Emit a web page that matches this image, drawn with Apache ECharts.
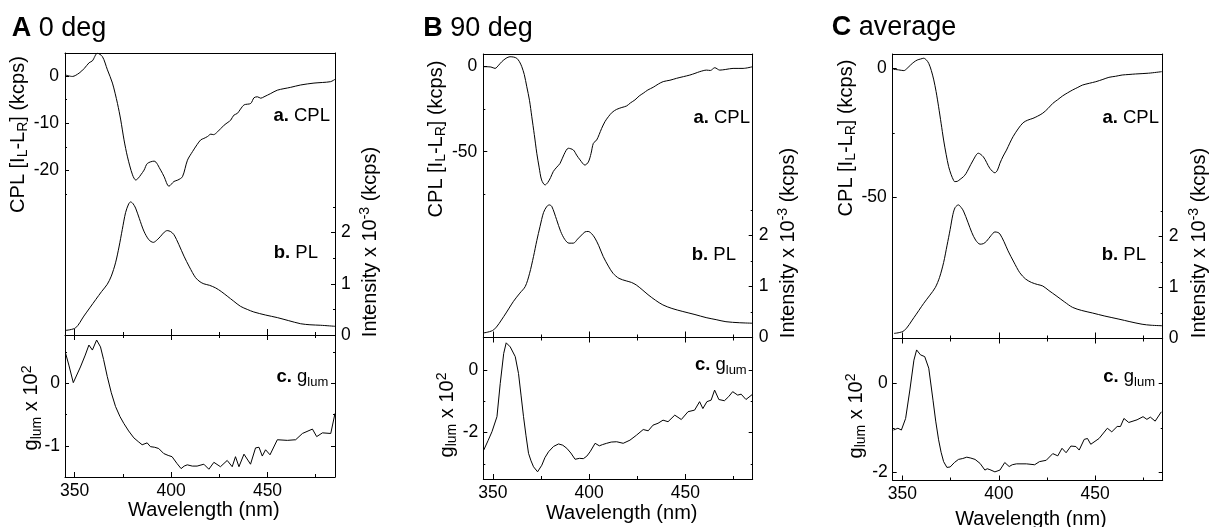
<!DOCTYPE html>
<html>
<head>
<meta charset="utf-8">
<script src="https://cdn.jsdelivr.net/npm/echarts@6/dist/echarts.min.js"></script>
<style>html,body{margin:0;padding:0;background:#fff}#c{width:1210px;height:527px}</style>
</head>
<body>
<div id="c"></div>
<script>
// ---------------- DATA ----------------
// Panel A (0 deg)
const wl_cplA = [345.3,348.8,352.3,355,357.5,359.2,361.8,364.4,367,369.6,372.2,373.9,375.6,377.4,380,381.7,383,384.3,386,387.7,391.2,394.6,396.4,398.9,401.5,403.5,405.9,408.5,411.1,413.5,415.4,417,418.9,420.6,422,424.1,427.5,429.5,431,432.5,434.4,436,437.9,441.3,443,444.8,446.5,448.2,451.7,455.1,462,467.2,474.1,482.7,485];
const cplA    = [0.2,-0.1,0.6,1.6,2.8,3.2,4.8,4.1,1.3,-1.5,-5.8,-9.3,-13.5,-17.1,-20.9,-22.0,-21.6,-20.9,-19.9,-18.5,-18.0,-19.9,-21.3,-23.3,-22.3,-22.0,-21.3,-17.8,-16,-14.5,-13.5,-13.2,-12.8,-12.3,-12.4,-11.8,-10.4,-9.8,-9.3,-8.3,-7.9,-7.0,-6.1,-5.8,-4.6,-4.4,-4.7,-4.4,-3.7,-3.0,-2.4,-1.9,-1.5,-1.2,-0.7];
const wl_plA  = [345.3,350.5,354.8,360.9,364,366.9,369,371.2,373,374.7,376.4,378,379,380.2,381.6,383.5,385.9,388.5,390.8,392.8,394.6,396.5,398,399.8,401.5,404,406.7,409.5,412.7,415,417,420,423.1,426,429.1,432.5,436,439.5,442.9,449,455.1,461,467.2,472,477.6,485];
const plA     = [0.09,0.14,0.37,0.69,0.85,0.99,1.15,1.41,1.72,2.06,2.39,2.56,2.60,2.57,2.48,2.28,2.03,1.86,1.81,1.86,1.93,2.01,2.04,2.02,1.96,1.77,1.54,1.33,1.12,1.04,1.0,0.97,0.92,0.85,0.76,0.66,0.56,0.5,0.45,0.39,0.34,0.28,0.22,0.2,0.19,0.17];
const wl_gA   = [345.3,347,349.3,353,355.5,357.4,359.2,361.4,363.4,365,366.9,369,371.2,373.5,375.5,378,380.7,383,385,387.6,389.3,391.5,393.6,396.2,398.5,400.5,403.1,405.2,406.8,408.4,411,413.5,417,419.6,422.2,425.6,429.1,431.7,433.4,435.2,437.8,441.2,443.8,445.6,447.3,449,451.3,455.1,460.3,464.6,468.1,473.3,475.5,478.5,482.8,485];
const gA      = [0.48,0.29,0.01,0.26,0.45,0.61,0.53,0.69,0.58,0.38,0.11,-0.15,-0.37,-0.53,-0.64,-0.76,-0.87,-0.93,-0.98,-0.95,-1.01,-1.02,-1.04,-1.12,-1.15,-1.17,-1.28,-1.36,-1.32,-1.30,-1.32,-1.32,-1.29,-1.37,-1.26,-1.33,-1.23,-1.33,-1.17,-1.33,-1.13,-1.29,-1.03,-1.02,-1.16,-1.06,-1.14,-0.90,-0.91,-0.90,-0.80,-0.73,-0.85,-0.79,-0.80,-0.48];

// Panel B (90 deg)
const wl_cplB = [345.2,349,351.1,353,354.6,356.8,358.9,360.8,362.4,363.8,365,366.3,367.6,369,370.2,371.5,372.8,374,375.3,377.1,378.5,380,381.4,383.2,384.9,387,389.2,391.8,393.5,395.3,397.8,399.6,401,402.2,403.9,405.2,406.5,408.2,410,412,414.3,417,419.5,421.5,423.8,426,428.1,430.5,433.3,436,438.5,442,445.4,449,452.3,455,457.5,461,463,465.3,467.9,471,474.8,480,485];
const cplB    = [-0.4,-0.6,-1.4,0.5,2.5,4.5,5.4,5.2,4.5,2.5,-0.4,-5,-12.1,-20,-29.6,-40,-50.9,-59,-66.5,-69.4,-68,-65,-61.5,-59,-56.8,-51.5,-48.0,-49,-52,-54.8,-57.8,-56,-51,-45.1,-43.2,-40,-36.4,-32.5,-29.6,-27,-25.3,-24.2,-23.3,-21.5,-19.8,-17.5,-15.9,-14,-12.4,-10.5,-9.1,-8.3,-7.2,-6.2,-5.3,-4.3,-3.3,-2.4,-2.6,-1.0,-2.4,-2.0,-1.4,-1.4,-0.4];
const wl_plB  = [345.2,350.4,355.6,360.7,364,366.8,369,371.1,372.8,374.5,376.3,378,379.3,380.6,383.1,385.2,387.4,389.5,391.8,394,396.1,397.8,399.5,401.2,403,405,407.3,410,412.4,415.5,419.3,422,424.5,427.5,430.6,434.5,438.3,443,448.7,455,460.8,466,471.1,478,485];
const plB     = [0.09,0.15,0.41,0.71,0.87,1.0,1.25,1.59,1.9,2.18,2.45,2.57,2.60,2.57,2.31,2.08,1.92,1.85,1.85,1.93,2.01,2.07,2.08,2.04,1.95,1.8,1.59,1.4,1.26,1.16,1.11,1.08,1.03,0.94,0.84,0.73,0.64,0.57,0.51,0.45,0.39,0.35,0.31,0.29,0.28];
const wl_gB   = [345.2,347.5,349.5,352.1,353.8,355.6,356.9,359,361.6,363.3,364.6,365.9,367.2,368.5,369.8,371.1,373.2,375.4,377,378.9,381.5,384.1,386.3,388.4,390.5,392.7,395,397,398.8,400.5,403.1,405.3,407,409.1,411.5,414.3,417.7,421.2,424.6,428.1,430.7,433.2,435.8,438.4,441,444.5,447.9,451.4,454.8,457.4,459.1,461.2,463.4,465.2,467.4,470.3,472.5,474.6,477.2,479,481.5,485];
const gB      = [-2.56,-2.25,-1.97,-1.49,-0.43,0.53,0.87,0.74,0.43,-0.11,-0.8,-1.49,-2.1,-2.66,-2.9,-3.09,-3.25,-3.04,-2.8,-2.61,-2.44,-2.36,-2.4,-2.5,-2.65,-2.85,-2.82,-2.83,-2.75,-2.61,-2.34,-2.42,-2.38,-2.34,-2.30,-2.29,-2.34,-2.24,-2.08,-1.90,-1.94,-1.76,-1.70,-1.60,-1.65,-1.44,-1.58,-1.33,-1.28,-1.01,-1.23,-1.01,-0.96,-0.64,-0.94,-0.98,-0.85,-0.69,-0.80,-0.77,-0.94,-0.77];

// Panel C (average)
const wl_cplC = [345.4,348,350.8,352.5,354.3,356,357.7,359.5,361.1,362.5,363.7,365,366.3,367.5,368.8,370.1,371.4,372.7,374,375.3,376.5,377.1,378.5,380,381.7,383,384.3,386.8,389.4,392,393.7,395.4,398,399.3,400.6,402.3,404,405.7,407.4,410,412.6,415,417.7,420,422.8,425.5,428,430.5,433.1,435.7,438.3,441,443.4,447,450.3,454,457.1,460.5,464,467.5,470.9,477.7,484.5];
const cplC    = [-0.4,-0.6,-0.9,0,1.3,2.4,3.2,3.6,3.9,3.2,1.9,-0.8,-4.5,-9,-14.9,-21.3,-27.8,-33.3,-38.1,-41.2,-43.3,-43.9,-43.8,-43,-42,-40.8,-39,-35.5,-32.9,-34.3,-36.5,-38.8,-40.5,-39.5,-36.8,-34,-31.7,-29,-26.5,-23.5,-21.1,-20.1,-19.4,-18.6,-17.4,-15.6,-13.6,-12.2,-10.7,-9.5,-8.4,-7.4,-6.5,-5.8,-5.2,-4.3,-3.5,-3.1,-2.6,-2.4,-2.2,-1.9,-1.3];
const wl_plC  = [345.7,350.8,356,361.1,364.3,367.1,369.3,371.4,373.2,374.8,376.2,377.4,379.1,380.5,381.7,384,386,388,390.3,392,393.7,396,398,399.5,400.6,402.7,404.8,407.8,410.9,413.8,416.9,420,422.8,426,429.7,434,438.3,443,448.6,455,462.3,468,474.3,479,485];
const plC     = [0.10,0.15,0.41,0.69,0.85,1.0,1.2,1.49,1.83,2.14,2.43,2.57,2.62,2.57,2.50,2.28,2.08,1.93,1.85,1.86,1.91,2.02,2.09,2.08,2.05,1.9,1.72,1.5,1.29,1.17,1.10,1.06,1.03,0.94,0.84,0.72,0.61,0.55,0.50,0.44,0.38,0.33,0.28,0.26,0.25];
const wl_gC   = [345.4,347.7,349.5,351.7,353.9,356,357.4,359.4,361.6,363.7,365.9,367.3,368.8,370.1,371.4,373.1,374.8,377,379.1,381.3,383.4,385.5,387.7,390.3,392.8,394,395.4,398,400.6,403.1,405.4,407,409.2,414.3,418.6,421.1,424.6,428,430.6,432.8,434.9,437.4,440,441.7,444.3,446,447.7,452,456.3,458.6,461.4,463.1,464.9,467.4,471.7,474.8,476.8,478.6,481.1,484.3];
const gC      = [-1.05,-1.01,-1.05,-0.79,-0.15,0.52,0.75,0.64,0.60,0.34,-0.38,-0.85,-1.27,-1.55,-1.76,-1.89,-1.88,-1.78,-1.71,-1.69,-1.66,-1.68,-1.71,-1.80,-1.95,-1.92,-1.94,-1.99,-1.95,-1.78,-1.87,-1.83,-1.81,-1.81,-1.83,-1.76,-1.73,-1.58,-1.63,-1.46,-1.56,-1.41,-1.42,-1.50,-1.26,-1.24,-1.37,-1.24,-1.01,-1.09,-0.97,-0.97,-0.79,-0.88,-0.82,-0.75,-0.81,-0.76,-0.85,-0.64];

// Tick values / labels
const xTicksMajor = [350, 400, 450];
const xTicksMinor = [375, 425, 475];
const cplTicksA = [0, -10, -20], cplMinorA = [-5, -15, -25];
const cplTicksB = [0, -50],      cplMinorB = [-25, -75];
const cplTicksC = [0, -50],      cplMinorC = [-25];
const plTicks = [0, 1, 2],       plMinor = [0.5, 1.5, 2.5];
const gTicksA = [0, -1],         gMinorA = [0.5, -0.5];
const gTicksB = [0, -2],         gMinorB = [-1, -3];
const gTicksC = [0, -2],         gMinorC = [-1];

// ---------------- LAYOUT / STYLE ----------------
const FONT = '"Liberation Sans", Arial, Helvetica, sans-serif';
const LS = { color: '#000', width: 1 };
const X_MIN = 345, X_MAX = 485;
const TICK_FS = 17.5;

const panels = [
  { title: ['A', '0 deg'], g: { left: 65, top: 53, width: 270, hTop: 282, hBot: 142 },
    cpl: { wl: wl_cplA, v: cplA, min: -54.76, max: 4.86, ticks: cplTicksA, minor: cplMinorA },
    pl:  { wl: wl_plA, v: plA, max: 5.51 },
    gl:  { wl: wl_gA, v: gA, min: -1.494, max: 0.77, ticks: gTicksA, minor: gMinorA },
    pos: { title: [11.7, 28.3], lt: [18.3, 134.5], rt: [370, 242], gt: [31.7, 408], xt: [203.8, 510.8],
           a: [330, 116], b: [318, 253], c: [328.3, 377] } },
  { title: ['B', '90 deg'], g: { left: 483.3, top: 54, width: 269.4, hTop: 283.5, hBot: 141.5 },
    cpl: { wl: wl_cplB, v: cplB, min: -158.4, max: 7.0, ticks: cplTicksB, minor: cplMinorB },
    pl:  { wl: wl_plB, v: plB, max: 5.56 },
    gl:  { wl: wl_gB, v: gB, min: -3.48, max: 1.04, ticks: gTicksB, minor: gMinorB },
    pos: { title: [423.3, 28.3], lt: [436, 139], rt: [788, 243], gt: [447, 415], xt: [621.7, 513.3],
           a: [750, 118], b: [736, 255], c: [746.7, 365] } },
  { title: ['C', 'average'], g: { left: 892.7, top: 54, width: 270, hTop: 284.5, hBot: 142 },
    cpl: { wl: wl_cplC, v: cplC, min: -104.7, max: 5.54, ticks: cplTicksC, minor: cplMinorC },
    pl:  { wl: wl_plC, v: plC, max: 5.58 },
    gl:  { wl: wl_gC, v: gC, min: -2.184, max: 1.007, ticks: gTicksC, minor: gMinorC },
    pos: { title: [831.7, 27.5], lt: [846, 138], rt: [1199, 243], gt: [856, 416], xt: [1031, 519],
           a: [1159, 118], b: [1146, 255], c: [1155, 377] } }
];

const richAll = {
  tb: { fontFamily: FONT, fontSize: 27, fontWeight: 'bold', lineHeight: 32, fill: '#000', color: '#000' },
  tn: { fontFamily: FONT, fontSize: 27, lineHeight: 32, fill: '#000', color: '#000' },
  an: { fontFamily: FONT, fontSize: 20, lineHeight: 24, fill: '#000', color: '#000' },
  asub: { fontFamily: FONT, fontSize: 14, lineHeight: 14, verticalAlign: 'bottom', fill: '#000', color: '#000' },
  asup: { fontFamily: FONT, fontSize: 14, lineHeight: 14, verticalAlign: 'top', fill: '#000', color: '#000' },
  b: { fontFamily: FONT, fontSize: 18.5, fontWeight: 'bold', lineHeight: 23, fill: '#000', color: '#000' },
  n: { fontFamily: FONT, fontSize: 18.5, lineHeight: 23, fill: '#000', color: '#000' },
  s: { fontFamily: FONT, fontSize: 13, lineHeight: 13, verticalAlign: 'bottom', fill: '#000', color: '#000' }
};

function txt(text, p, align, rot) {
  return {
    type: 'text', x: p[0], y: p[1], rotation: rot || 0, silent: true,
    style: { text: text, rich: richAll, fill: '#000', font: '17px ' + FONT,
             align: align, verticalAlign: 'middle', textAlign: align, textVerticalAlign: 'middle' }
  };
}

const grids = [], xAxes = [], yAxes = [], series = [], graphics = [];
function addX(o) {
  xAxes.push(Object.assign({ type: 'value', min: X_MIN, max: X_MAX, splitLine: { show: false },
    axisLine: { show: false, onZero: false }, axisLabel: { show: false }, axisTick: { show: false } }, o));
  return xAxes.length - 1;
}
function addY(o) {
  yAxes.push(Object.assign({ type: 'value', splitLine: { show: false },
    axisLine: { show: false, onZero: false }, axisLabel: { show: false }, axisTick: { show: false } }, o));
  return yAxes.length - 1;
}
const tick = (vals, len) => ({ show: true, inside: true, length: len, customValues: vals, lineStyle: LS });
const line = { show: true, onZero: false, lineStyle: LS };
const lab = (vals, margin) => ({ show: true, customValues: vals, fontSize: TICK_FS, color: '#000', fontFamily: FONT, margin: margin });

panels.forEach(P => {
  const G = P.g;
  const gt = grids.length;
  grids.push({ left: G.left, top: G.top, width: G.width, height: G.hTop, containLabel: false, outerBoundsMode: 'none' });
  const gb = grids.length;
  grids.push({ left: G.left, top: G.top + G.hTop, width: G.width, height: G.hBot, containLabel: false, outerBoundsMode: 'none' });

  // x axes: top grid
  const xT = addX({ gridIndex: gt, position: 'bottom', axisLine: line, axisTick: tick(xTicksMajor, 6) });
  addX({ gridIndex: gt, position: 'bottom', axisTick: tick(xTicksMinor, 3) });
  addX({ gridIndex: gt, position: 'top', axisLine: line });
  // x axes: bottom grid
  const xB = addX({ gridIndex: gb, position: 'bottom', axisLine: line, axisTick: tick(xTicksMajor, 5), axisLabel: lab(xTicksMajor, 5) });
  addX({ gridIndex: gb, position: 'bottom', axisTick: tick(xTicksMinor, 3) });
  addX({ gridIndex: gb, position: 'top', axisTick: tick(xTicksMajor, 5) });
  addX({ gridIndex: gb, position: 'top', axisTick: tick(xTicksMinor, 3) });

  // y axes: top grid
  const yC = addY({ gridIndex: gt, position: 'left', min: P.cpl.min, max: P.cpl.max, axisLine: line,
    axisTick: tick(P.cpl.ticks, 4), axisLabel: lab(P.cpl.ticks, 6) });
  addY({ gridIndex: gt, position: 'left', min: P.cpl.min, max: P.cpl.max, axisTick: tick(P.cpl.minor, 2) });
  const yP = addY({ gridIndex: gt, position: 'right', min: 0, max: P.pl.max, axisLine: line,
    axisTick: tick(plTicks, 4), axisLabel: lab(plTicks, 6) });
  addY({ gridIndex: gt, position: 'right', min: 0, max: P.pl.max, axisTick: tick(plMinor, 2) });
  // y axes: bottom grid
  const yG = addY({ gridIndex: gb, position: 'left', min: P.gl.min, max: P.gl.max, axisLine: line,
    axisTick: tick(P.gl.ticks, 4), axisLabel: lab(P.gl.ticks, 5) });
  addY({ gridIndex: gb, position: 'left', min: P.gl.min, max: P.gl.max, axisTick: tick(P.gl.minor, 2) });
  addY({ gridIndex: gb, position: 'right', min: P.gl.min, max: P.gl.max, axisLine: line, axisTick: tick(P.gl.ticks, 4) });
  addY({ gridIndex: gb, position: 'right', min: P.gl.min, max: P.gl.max, axisTick: tick(P.gl.minor, 2) });

  const mk = (s, xi, yi, smooth) => ({
    type: 'line', xAxisIndex: xi, yAxisIndex: yi, data: s.wl.map((w, i) => [w, s.v[i]]),
    showSymbol: false, symbol: 'none', smooth: smooth, silent: true, clip: true,
    lineStyle: { color: '#000', width: 1 }
  });
  series.push(mk(P.cpl, xT, yC, 0.3));
  series.push(mk(P.pl, xT, yP, 0.3));
  series.push(mk(P.gl, xB, yG, false));

  const p = P.pos;
  graphics.push(txt('{tb|' + P.title[0] + '}{tn| ' + P.title[1] + '}', p.title, 'left'));
  graphics.push(txt('{an|CPL [I}{asub|L}{an|-L}{asub|R}{an|] (kcps)}', p.lt, 'center', Math.PI / 2));
  graphics.push(txt('{an|Intensity x 10}{asup|-3}{an| (kcps)}', p.rt, 'center', Math.PI / 2));
  graphics.push(txt('{an|g}{asub|lum}{an| x 10}{asup|2}', p.gt, 'center', Math.PI / 2));
  graphics.push(txt('{an|Wavelength (nm)}', p.xt, 'center'));
  graphics.push(txt('{b|a. }{n|CPL}', p.a, 'right'));
  graphics.push(txt('{b|b. }{n|PL}', p.b, 'right'));
  graphics.push(txt('{b|c. }{n|g}{s|lum}', p.c, 'right'));
});

const chart = echarts.init(document.getElementById('c'), null, { renderer: 'canvas' });
chart.setOption({
  animation: false,
  backgroundColor: '#fff',
  textStyle: { fontFamily: FONT },
  grid: grids,
  xAxis: xAxes,
  yAxis: yAxes,
  series: series,
  graphic: { elements: graphics }
});
</script>
</body>
</html>
